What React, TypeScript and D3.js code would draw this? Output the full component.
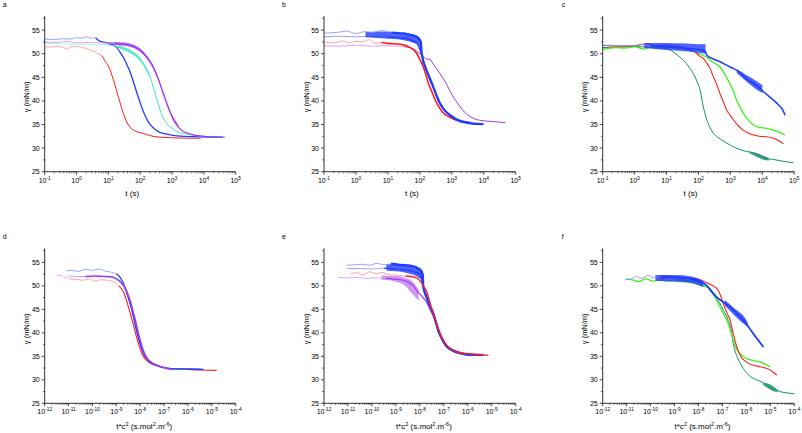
import React from "react";
import * as d3 from "d3";

type Pt = [number, number];
type Bd = [number, number, number];

// ---------- Panel a : gamma vs log10 t ----------
const aRed: Pt[] = [[-1, 51.5], [-0.8, 51.4], [-0.6, 51.6], [-0.4, 51.3], [-0.3, 51.0], [-0.2, 51.4], [0, 51.6], [0.2, 51.3], [0.4, 50.9], [0.55, 50.5], [0.7, 49.9], [0.8, 49.6], [0.9, 48.4], [1.0, 47.4], [1.1, 45.7], [1.2, 43.5], [1.31, 40.9], [1.4, 38.9], [1.47, 37.4], [1.55, 35.9], [1.63, 34.9], [1.79, 33.8], [2.1, 33.1], [2.5, 32.4], [3.0, 32.2], [3.5, 32.1], [3.9, 32.1]];
const aBlue: Pt[] = [[-1, 53.1], [-0.7, 53.0], [-0.4, 53.2], [-0.2, 53.1], [0, 53.4], [0.15, 53.3], [0.3, 53.6], [0.45, 53.3], [0.6, 53.4], [0.74, 52.6], [0.9, 52.4], [1.1, 52.0], [1.25, 51.4], [1.37, 50.3], [1.5, 48.9], [1.6, 47.4], [1.68, 46.2], [1.76, 44.6], [1.84, 42.9], [1.92, 41.2], [2.0, 39.6], [2.08, 38.1], [2.16, 36.8], [2.25, 35.6], [2.35, 34.7], [2.46, 34.0], [2.6, 33.4], [2.8, 33.0], [3.15, 32.6], [3.9, 32.4], [4.6, 32.3]];
const aCyan: Pt[] = [[-1, 52.2], [-0.5, 52.1], [0, 52.0], [0.5, 52.0], [1.0, 51.9], [1.37, 51.3], [1.6, 50.6], [1.79, 50.0], [1.95, 49.0], [2.1, 47.9], [2.2, 46.8], [2.31, 45.1], [2.39, 43.4], [2.47, 41.6], [2.55, 39.8], [2.62, 38.1], [2.72, 36.5], [2.83, 35.2], [3.0, 34.2], [3.15, 33.5], [3.35, 33.1], [3.57, 32.8], [4.0, 32.5], [4.6, 32.3]];
const aCyanBand: Bd[] = [[1.3, 51.2, 51.8], [1.7, 50.1, 50.8], [2.0, 48.4, 49.2], [2.3, 45.0, 45.6]];
const aViolet: Pt[] = [[-1, 52.5], [-0.6, 52.4], [-0.3, 52.6], [0, 52.3], [0.4, 52.4], [0.8, 52.3], [1.2, 52.2], [1.5, 52.0], [1.79, 51.5], [1.95, 50.9], [2.1, 50.1], [2.25, 48.9], [2.41, 47.2], [2.52, 45.5], [2.62, 43.7], [2.72, 41.6], [2.83, 39.5], [2.94, 37.6], [3.04, 36.0], [3.17, 34.7], [3.3, 33.8], [3.48, 33.2], [3.67, 32.8], [4.0, 32.5], [4.3, 32.4], [4.66, 32.3]];
const aVioletBand: Bd[] = [[1.0, 51.9, 52.5], [1.5, 51.7, 52.4], [1.8, 51.2, 51.9], [2.1, 49.8, 50.5], [2.4, 46.9, 47.6], [2.7, 41.9, 42.5], [3.0, 36.5, 37.1], [3.2, 34.4, 34.9]];

// ---------- Panel b ----------
const bBlueTop: Pt[] = [[-1, 54.4], [-0.6, 54.5], [-0.3, 54.8], [0, 54.3], [0.3, 54.7], [0.5, 54.5], [0.8, 54.9], [1.1, 54.5], [1.5, 54.3], [1.9, 53.6], [2.03, 52.6], [2.06, 50.0], [2.21, 46.5], [2.32, 44.7], [2.42, 43.0], [2.52, 41.2], [2.63, 39.5], [2.78, 38.0], [2.95, 37.0], [3.1, 36.3], [3.26, 35.8], [3.45, 35.5], [3.68, 35.2], [3.99, 35.1]];
const bBlueMid: Pt[] = [[-1, 53.6], [-0.5, 53.7], [0, 53.6], [0.5, 53.7], [1.0, 53.6], [1.5, 53.3], [1.9, 52.3], [2.06, 49.7], [2.21, 46.3], [2.42, 42.8], [2.63, 39.3], [2.95, 36.8], [3.26, 35.6], [3.68, 35.1], [3.99, 35.0]];
const bBlueBand: Bd[] = [[0.3, 53.5, 54.6], [0.8, 53.3, 54.7], [1.2, 53.1, 54.5], [1.6, 52.7, 54.2], [1.9, 52.0, 53.8], [2.0, 51.1, 53.2], [2.06, 49.6, 52.2]];
const bRed: Pt[] = [[-1, 52.5], [-0.7, 52.3], [-0.4, 52.7], [-0.2, 52.3], [0, 52.6], [0.2, 52.5], [0.4, 53.0], [0.6, 52.2], [0.8, 52.4], [1.0, 52.2], [1.4, 52.0], [1.7, 51.3], [1.9, 50.1], [2.0, 48.8], [2.11, 47.2], [2.2, 45.3], [2.27, 43.7], [2.38, 41.9], [2.48, 40.2], [2.6, 38.7], [2.74, 37.4], [2.87, 36.8], [3.0, 36.3], [3.15, 35.9], [3.31, 35.6], [3.6, 35.4]];
const bViolet: Pt[] = [[-1, 51.7], [-0.5, 51.6], [0, 51.8], [0.5, 51.6], [1.0, 51.7], [1.5, 51.5], [1.8, 51.0], [2.0, 50.0], [2.11, 49.4], [2.2, 48.9], [2.32, 48.8], [2.42, 47.8], [2.53, 46.8], [2.63, 45.8], [2.8, 44.0], [2.95, 42.0], [3.1, 40.3], [3.26, 38.8], [3.4, 37.6], [3.57, 36.7], [3.75, 36.1], [3.99, 35.8], [4.3, 35.6], [4.67, 35.4]];

// ---------- Panel c ----------
const cBlue: Pt[] = [[-1, 51.8], [-0.5, 51.8], [0, 51.7], [0.2, 52.0], [0.5, 51.6], [1.0, 51.5], [1.5, 51.2], [2.0, 50.9], [2.2, 50.6], [2.26, 49.7], [2.5, 48.8], [2.67, 48.3], [2.99, 47.2], [3.09, 46.9], [3.3, 46.0], [3.51, 44.6], [3.82, 43.3], [4.03, 42.0], [4.2, 41.0], [4.34, 40.2], [4.5, 39.2], [4.62, 38.3], [4.71, 37.0]];
const cBlueBand: Bd[] = [[0.3, 51.2, 52.3], [1.0, 50.8, 52.3], [1.5, 50.6, 52.2], [2.0, 50.2, 52.0], [2.22, 50.0, 52.0]];
const cBlueBand2: Bd[] = [[3.2, 45.9, 46.7], [3.5, 44.1, 45.5], [3.8, 42.5, 44.3], [4.0, 41.7, 43.3]];
const cRed: Pt[] = [[-1, 51.8], [-0.5, 51.6], [0, 51.7], [0.4, 52.1], [0.6, 51.7], [1.0, 51.8], [1.5, 51.4], [1.73, 50.8], [1.9, 50.3], [2.05, 49.4], [2.15, 49.0], [2.26, 48.0], [2.36, 46.9], [2.46, 45.2], [2.57, 43.5], [2.67, 41.6], [2.78, 39.8], [2.88, 38.1], [2.99, 37.0], [3.09, 36.0], [3.25, 34.7], [3.4, 33.8], [3.55, 33.2], [3.72, 32.8], [3.9, 32.5], [4.13, 32.4], [4.34, 32.1], [4.5, 31.6], [4.66, 30.9]];
const cGreen: Pt[] = [[-1, 50.9], [-0.6, 51.3], [-0.3, 51.2], [0, 51.5], [0.3, 51.0], [0.5, 51.4], [0.8, 51.1], [1.0, 51.4], [1.4, 51.1], [1.73, 50.8], [2.0, 50.1], [2.26, 49.2], [2.45, 48.2], [2.67, 47.2], [2.85, 45.3], [2.98, 43.7], [3.1, 41.9], [3.19, 40.2], [3.3, 38.7], [3.4, 37.4], [3.55, 36.0], [3.72, 34.9], [3.9, 34.4], [4.13, 34.2], [4.45, 33.6], [4.71, 32.8]];
const cTeal: Pt[] = [[-1, 51.3], [-0.5, 51.4], [0, 51.5], [0.5, 51.4], [0.9, 51.2], [1.11, 50.8], [1.3, 49.9], [1.53, 48.6], [1.7, 47.2], [1.84, 45.8], [1.95, 44.2], [2.05, 42.3], [2.1, 40.6], [2.15, 38.8], [2.2, 37.4], [2.26, 36.0], [2.35, 34.5], [2.46, 33.2], [2.6, 32.3], [2.78, 31.5], [3.0, 30.6], [3.3, 29.7], [3.5, 29.3], [3.72, 29.0], [3.93, 28.3], [4.1, 27.8], [4.34, 27.6], [4.66, 27.2], [4.97, 26.9]];
const cTealBand: Bd[] = [[3.6, 28.9, 29.3], [3.8, 28.2, 29.0], [4.0, 27.6, 28.5], [4.2, 27.4, 27.9]];

// ---------- Panel d : gamma vs log10 (t c^2) ----------
const dViolet: Pt[] = [[-11.5, 52.3], [-11.3, 52.2], [-11.1, 51.7], [-11.0, 52.1], [-10.7, 52.0], [-10.3, 52.0], [-9.9, 52.1], [-9.5, 52.0], [-9.1, 51.8], [-8.9, 51.2], [-8.7, 50.2], [-8.55, 48.7], [-8.4, 46.5], [-8.28, 44.2], [-8.15, 41.6], [-8.05, 39.4], [-7.94, 37.4], [-7.82, 35.6], [-7.7, 34.5], [-7.5, 33.6], [-7.3, 33.1], [-6.9, 32.4], [-6.6, 32.2]];
const dBlue: Pt[] = [[-11.1, 53.2], [-10.9, 53.3], [-10.6, 53.1], [-10.3, 53.5], [-10.0, 53.3], [-9.7, 53.6], [-9.5, 53.2], [-9.2, 52.9], [-9.0, 52.6], [-8.84, 51.8], [-8.7, 50.5], [-8.56, 48.5], [-8.42, 46.2], [-8.3, 43.8], [-8.18, 41.0], [-8.06, 38.6], [-7.94, 36.6], [-7.8, 35.0], [-7.6, 33.8], [-7.3, 33.0], [-6.9, 32.5], [-6.3, 32.3], [-5.8, 32.3], [-5.35, 32.2]];
const dCyan: Pt[] = [[-10.8, 52.0], [-10.3, 51.9], [-9.8, 52.0], [-9.3, 51.8], [-9.0, 51.3], [-8.8, 50.6], [-8.6, 49.0], [-8.45, 46.8], [-8.3, 44.0], [-8.17, 41.3], [-8.05, 38.9], [-7.92, 36.7], [-7.78, 35.0], [-7.55, 33.8], [-7.25, 33.0], [-6.9, 32.5], [-6.5, 32.3], [-6.1, 32.2]];
const dRed: Pt[] = [[-11.0, 51.5], [-10.7, 51.4], [-10.4, 51.2], [-10.1, 51.5], [-9.9, 51.0], [-9.7, 51.3], [-9.4, 51.2], [-9.1, 50.8], [-8.9, 50.0], [-8.7, 48.7], [-8.55, 46.5], [-8.42, 44.2], [-8.3, 42.0], [-8.18, 39.6], [-8.06, 37.5], [-7.94, 35.7], [-7.8, 34.5], [-7.6, 33.6], [-7.3, 33.0], [-6.9, 32.5], [-6.2, 32.3], [-5.5, 32.1], [-4.8, 32.0]];

// ---------- Panel e ----------
const eBlueTop: Pt[] = [[-11.05, 54.4], [-10.7, 54.5], [-10.4, 54.6], [-10.1, 54.4], [-9.8, 54.8], [-9.5, 54.5], [-9.2, 54.7], [-8.9, 54.5], [-8.4, 54.3], [-8.0, 53.5], [-7.88, 52.4], [-7.86, 49.9], [-7.72, 47.6], [-7.58, 45.8], [-7.44, 44.1], [-7.33, 42.3], [-7.23, 40.5], [-7.1, 39.0], [-6.95, 37.6], [-6.8, 36.8], [-6.6, 36.2], [-6.3, 35.7], [-6.05, 35.4], [-5.7, 35.3], [-5.35, 35.3]];
const eBlueMid: Pt[] = [[-11.05, 53.7], [-10.5, 53.7], [-10.0, 53.6], [-9.5, 53.8], [-9.0, 53.6], [-8.5, 53.3], [-8.0, 52.5], [-7.86, 49.7], [-7.72, 47.4], [-7.44, 43.9], [-7.23, 40.3], [-6.95, 37.4], [-6.6, 36.0], [-6.05, 35.3], [-5.5, 35.2]];
const eBlueBand: Bd[] = [[-9.4, 53.3, 54.6], [-9.0, 53.1, 54.6], [-8.5, 52.7, 54.4], [-8.1, 51.9, 54.0], [-7.9, 51.0, 53.2], [-7.86, 49.6, 52.2]];
const eRed: Pt[] = [[-10.9, 52.6], [-10.6, 52.8], [-10.4, 52.3], [-10.1, 53.0], [-9.8, 52.6], [-9.6, 52.9], [-9.3, 52.4], [-9.0, 52.3], [-8.6, 52.1], [-8.2, 51.8], [-7.95, 50.8], [-7.8, 49.5], [-7.72, 48.8], [-7.6, 46.8], [-7.5, 45.0], [-7.38, 43.2], [-7.25, 41.0], [-7.1, 39.1], [-6.95, 37.8], [-6.8, 36.9], [-6.5, 36.0], [-6.1, 35.6], [-5.6, 35.4], [-5.14, 35.2]];
const eViolet: Pt[] = [[-11.4, 51.8], [-11.0, 51.7], [-10.6, 51.8], [-10.2, 51.6], [-9.8, 51.7], [-9.4, 51.6], [-9.0, 51.4], [-8.7, 51.2], [-8.45, 50.7], [-8.27, 50.0], [-8.1, 48.8], [-8.0, 48.3], [-7.85, 47.4], [-7.72, 46.5], [-7.58, 45.0], [-7.44, 43.6], [-7.3, 41.8], [-7.15, 39.8], [-7.0, 38.2], [-6.8, 37.0], [-6.6, 36.2]];
const eVioletBand: Bd[] = [[-9.6, 51.3, 52.2], [-9.0, 50.9, 52.1], [-8.6, 50.0, 51.7], [-8.3, 48.2, 50.9], [-8.05, 46.8, 49.2]];

// ---------- Panel f ----------
const fBlue: Pt[] = [[-11.07, 51.3], [-10.8, 51.5], [-10.6, 52.0], [-10.4, 51.6], [-10.1, 52.2], [-9.9, 51.8], [-9.6, 52.0], [-9.2, 51.9], [-8.8, 51.8], [-8.4, 51.6], [-8.0, 51.0], [-7.66, 50.1], [-7.45, 48.8], [-7.24, 47.6], [-6.95, 46.5], [-6.68, 45.5], [-6.4, 44.1], [-6.13, 42.7], [-5.9, 41.2], [-5.71, 39.8], [-5.5, 38.4], [-5.29, 37.0]];
const fBlueBand: Bd[] = [[-9.8, 51.1, 52.3], [-9.0, 50.9, 52.3], [-8.3, 50.6, 52.0], [-7.8, 49.7, 51.1]];
const fBlueBand2: Bd[] = [[-6.9, 45.8, 47.0], [-6.5, 43.7, 45.2], [-6.1, 41.9, 43.5], [-5.95, 41.3, 42.3]];
const fRed: Pt[] = [[-9.75, 51.8], [-9.4, 51.6], [-9.0, 51.9], [-8.6, 51.5], [-8.2, 51.6], [-7.8, 51.0], [-7.55, 50.4], [-7.38, 50.0], [-7.17, 49.0], [-6.96, 46.2], [-6.82, 44.3], [-6.68, 42.7], [-6.58, 40.5], [-6.48, 38.4], [-6.37, 36.6], [-6.26, 35.2], [-6.1, 34.2], [-5.92, 33.5], [-5.7, 33.1], [-5.43, 32.8], [-5.2, 32.5], [-5.01, 32.1], [-4.85, 31.5], [-4.73, 31.0]];
const fGreen: Pt[] = [[-11.0, 51.5], [-10.7, 51.2], [-10.5, 50.9], [-10.2, 51.5], [-9.9, 51.0], [-9.6, 51.3], [-9.3, 51.0], [-9.0, 51.3], [-8.6, 51.0], [-8.2, 50.6], [-7.8, 50.0], [-7.5, 49.3], [-7.3, 47.5], [-7.1, 45.5], [-6.9, 43.5], [-6.76, 42.0], [-6.65, 40.2], [-6.55, 38.4], [-6.45, 37.0], [-6.34, 36.0], [-6.15, 35.0], [-5.99, 34.5], [-5.7, 34.1], [-5.43, 33.8], [-5.2, 33.3], [-5.01, 32.8]];
const fTeal: Pt[] = [[-9.0, 51.5], [-8.6, 51.2], [-8.2, 51.0], [-7.9, 50.6], [-7.66, 50.0], [-7.5, 48.9], [-7.31, 47.6], [-7.1, 46.2], [-6.96, 44.8], [-6.76, 42.7], [-6.61, 39.8], [-6.55, 37.7], [-6.48, 36.3], [-6.41, 35.2], [-6.25, 33.5], [-6.13, 32.4], [-5.9, 31.0], [-5.57, 30.0], [-5.3, 29.4], [-5.15, 28.9], [-4.9, 28.2], [-4.6, 27.5], [-4.3, 27.2], [-3.97, 27.0]];
const fTealBand: Bd[] = [[-5.3, 28.9, 29.4], [-5.1, 28.2, 29.2], [-4.9, 27.6, 28.7], [-4.7, 27.4, 27.9]];

// ---------- axes ----------
const yTicks = [25, 30, 35, 40, 45, 50, 55];
const yMinor = [27.5, 32.5, 37.5, 42.5, 47.5, 52.5, 57.5];
const yDomain: [number, number] = [25, 58];
const timeExp: [number, number] = [-1, 5];
const tc2Exp: [number, number] = [-12, -4];
const panelLetters = ["a", "b", "c", "d", "e", "f"];

const FONT = "'Liberation Sans', Arial, Helvetica, sans-serif";
const RED = "#ff1a1a", RED_L = "#ff8c8c";
const BLUE = "#1f3cff", BLUE_L = "#7d8cff";
const CYAN = "#3ee8c0", CYAN_L = "#8af2da";
const VIOLET = "#a437f0", VIOLET_L = "#dc8ce8", VIOLET_B = "#c27cf2";
const GREEN = "#3cf01e", TEAL = "#138f6b";

interface S { data: Pt[]; color: string; light?: string; split?: number; width?: number; band?: Bd[]; band2?: Bd[]; bandColor?: string; }
interface P { letter: string; col: number; row: number; exp: [number, number]; series: S[]; }

const panels: P[] = [
  { letter: panelLetters[0], col: 0, row: 0, exp: timeExp, series: [
    { data: aRed, color: RED, light: RED_L, split: 0.8, width: 1 },
    { data: aBlue, color: BLUE, light: BLUE_L, split: 0.6, width: 1.3 },
    { data: aCyan, color: CYAN, light: CYAN_L, split: 1.0, width: 1, band: aCyanBand },
    { data: aViolet, color: VIOLET, light: VIOLET_L, split: 1.0, width: 1.2, band: aVioletBand },
  ] },
  { letter: panelLetters[1], col: 1, row: 0, exp: timeExp, series: [
    { data: bViolet, color: VIOLET, light: VIOLET_L, split: 1.5, width: 1 },
    { data: bRed, color: RED, light: RED_L, split: 0.8, width: 1.6 },
    { data: bBlueMid, color: BLUE, light: BLUE_L, split: 1.0, width: 1.2 },
    { data: bBlueTop, color: BLUE, light: BLUE_L, split: 1.0, width: 2.2, band: bBlueBand },
  ] },
  { letter: panelLetters[2], col: 2, row: 0, exp: timeExp, series: [
    { data: cTeal, color: TEAL, width: 1, band: cTealBand },
    { data: cGreen, color: GREEN, width: 1.3 },
    { data: cRed, color: RED, width: 1.1 },
    { data: cBlue, color: BLUE, light: BLUE_L, split: 0.3, width: 1.6, band: cBlueBand, band2: cBlueBand2 },
  ] },
  { letter: panelLetters[3], col: 0, row: 1, exp: tc2Exp, series: [
    { data: dRed, color: RED, light: RED_L, split: -8.9, width: 1.1 },
    { data: dCyan, color: CYAN, light: CYAN_L, split: -9.0, width: 1.2 },
    { data: dBlue, color: BLUE, light: BLUE_L, split: -9.0, width: 1.3 },
    { data: dViolet, color: VIOLET, light: VIOLET_L, split: -10.3, width: 1.5 },
  ] },
  { letter: panelLetters[4], col: 1, row: 1, exp: tc2Exp, series: [
    { data: eViolet, color: VIOLET, light: VIOLET_L, split: -9.5, width: 1.2, band: eVioletBand, bandColor: VIOLET_B },
    { data: eBlueMid, color: BLUE, light: BLUE_L, split: -9.5, width: 1.2 },
    { data: eBlueTop, color: BLUE, light: BLUE_L, split: -9.4, width: 2.4, band: eBlueBand },
    { data: eRed, color: RED, light: RED_L, split: -8.6, width: 1.4 },
  ] },
  { letter: panelLetters[5], col: 2, row: 1, exp: tc2Exp, series: [
    { data: fTeal, color: TEAL, width: 1, band: fTealBand },
    { data: fGreen, color: GREEN, width: 1.3 },
    { data: fRed, color: RED, width: 1.1 },
    { data: fBlue, color: BLUE, light: BLUE_L, split: -9.8, width: 1.8, band: fBlueBand, band2: fBlueBand2 },
  ] },
];

const colLeft = [44.7, 324, 602.7];
const colRight = [235.7, 515.7, 794.3];
const rowTop = [16, 248.3];
const rowBottom = [171.7, 403.3];

function Panel({ p }: { p: P }) {
  const L = colLeft[p.col], R = colRight[p.col], T = rowTop[p.row], B = rowBottom[p.row];
  const x = d3.scaleLog().domain([Math.pow(10, p.exp[0]), Math.pow(10, p.exp[1])]).range([L, R]);
  const y = d3.scaleLinear().domain(yDomain).range([B, T]);
  const line = d3.line<Pt>().x(d => x(Math.pow(10, d[0]))).y(d => y(d[1])).curve(d3.curveMonotoneX);
  const area = d3.area<Bd>().x(d => x(Math.pow(10, d[0]))).y0(d => y(d[1])).y1(d => y(d[2])).curve(d3.curveMonotoneX);
  const decades = d3.range(p.exp[0], p.exp[1] + 1);
  const minors: number[] = [];
  decades.slice(0, -1).forEach(e => { for (let k = 2; k <= 9; k++) minors.push(k * Math.pow(10, e)); });
  const isTime = p.exp === timeExp;
  const titleX = isTime ? (L + R) / 2 - 8 : (L + R) / 2 + 4;
  const titleY = isTime ? 195.5 : 428.5;
  const ylx = L - 15.5;
  const clipId = `clip-${p.letter}`;
  return (
    <g>
      <defs>
        <clipPath id={clipId}><rect x={L} y={T} width={R - L} height={B - T} /></clipPath>
      </defs>
      <text x={p.col === 2 ? L - 41 : L - 42} y={T - 9} fontSize={7} fontFamily={FONT}>{p.letter}</text>
      <g clipPath={`url(#${clipId})`}>
        {p.series.map((s, i) => {
          const split = s.split;
          const early = split !== undefined ? s.data.filter(d => d[0] <= split) : [];
          const late = split !== undefined ? s.data.filter(d => d[0] >= split) : s.data;
          const earlyFull = split !== undefined && late.length && early.length && early[early.length - 1][0] < split ? [...early, late[0]] : early;
          const bc = s.bandColor || s.color;
          return (
            <g key={i}>
              {s.band && <path d={area(s.band) || ""} fill={bc} opacity={0.8} />}
              {s.band2 && <path d={area(s.band2) || ""} fill={bc} opacity={0.8} />}
              {earlyFull.length > 1 && <path d={line(earlyFull) || ""} fill="none" stroke={s.light} strokeWidth={0.8} />}
              <path d={line(late) || ""} fill="none" stroke={s.color} strokeWidth={s.width || 1} strokeLinejoin="round" />
            </g>
          );
        })}
      </g>
      <line x1={L} y1={T} x2={L} y2={B} stroke="#000" strokeWidth={0.8} />
      <line x1={L} y1={B} x2={R} y2={B} stroke="#000" strokeWidth={0.8} />
      {yTicks.map(v => (
        <g key={v}>
          <line x1={L - 3} x2={L} y1={y(v)} y2={y(v)} stroke="#000" strokeWidth={0.7} />
          <text x={L - 5} y={y(v) + 2.4} fontSize={7} textAnchor="end" fontFamily={FONT}>{v}</text>
        </g>
      ))}
      {yMinor.map(v => (
        <line key={v} x1={L - 1.8} x2={L} y1={y(v)} y2={y(v)} stroke="#000" strokeWidth={0.6} />
      ))}
      {decades.map(e => (
        <g key={e}>
          <line x1={x(Math.pow(10, e))} x2={x(Math.pow(10, e))} y1={B} y2={B + 3} stroke="#000" strokeWidth={0.7} />
          <text x={x(Math.pow(10, e))} y={B + 11} fontSize={7} textAnchor="middle" fontFamily={FONT}>
            10<tspan dy={-3} fontSize={4.8}>{e}</tspan>
          </text>
        </g>
      ))}
      {minors.map((m, i) => (
        <line key={i} x1={x(m)} x2={x(m)} y1={B} y2={B + 1.6} stroke="#000" strokeWidth={0.5} />
      ))}
      <text x={titleX} y={titleY} fontSize={8} textAnchor="middle" fontFamily={FONT}>
        {isTime ? "t (s)" : (<>t*c<tspan dy={-3} fontSize={5.5}>2</tspan><tspan dy={3}> (s.mol</tspan><tspan dy={-3} fontSize={5.5}>2</tspan><tspan dy={3}>.m</tspan><tspan dy={-3} fontSize={5.5}>-6</tspan><tspan dy={3}>)</tspan></>)}
      </text>
      <text transform={`translate(${ylx},${(T + B) / 2 + 3}) rotate(-90)`} fontSize={7.5} textAnchor="middle" fontFamily={FONT}>γ (mN/m)</text>
    </g>
  );
}

export default function App() {
  return (
    <svg width={802} height={433} viewBox="0 0 802 433" style={{ position: "absolute", left: 0, top: 0, background: "#fff" }}>
      <rect x={0} y={0} width={802} height={433} fill="#fff" />
      {panels.map(p => <Panel key={p.letter} p={p} />)}
    </svg>
  );
}
